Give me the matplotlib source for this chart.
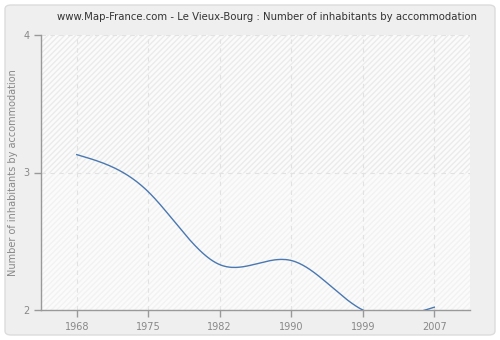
import numpy as np
import matplotlib
matplotlib.use("Agg")
import matplotlib.pyplot as plt
from matplotlib.patches import FancyBboxPatch, Rectangle

years = ["1968", "1975", "1982", "1990", "1999", "2007"]
values = [3.13, 2.86, 2.33, 2.36, 2.00, 2.02]
title = "www.Map-France.com - Le Vieux-Bourg : Number of inhabitants by accommodation"
ylabel = "Number of inhabitants by accommodation"
yticks = [2, 3, 4]


def natural_spline(x, y, n=400):
    x = np.asarray(x, float)
    y = np.asarray(y, float)
    k = len(x)
    h = np.diff(x)
    A = np.zeros((k, k))
    b = np.zeros(k)
    A[0, 0] = 1
    A[-1, -1] = 1
    for i in range(1, k - 1):
        A[i, i - 1] = h[i - 1]
        A[i, i] = 2 * (h[i - 1] + h[i])
        A[i, i + 1] = h[i]
        b[i] = 6 * ((y[i + 1] - y[i]) / h[i] - (y[i] - y[i - 1]) / h[i - 1])
    M = np.linalg.solve(A, b)
    xs = np.linspace(x[0], x[-1], n)
    idx = np.clip(np.searchsorted(x, xs) - 1, 0, k - 2)
    x0, x1 = x[idx], x[idx + 1]
    hh = x1 - x0
    t0 = x1 - xs
    t1 = xs - x0
    ys = (M[idx] * t0**3 / (6 * hh) + M[idx + 1] * t1**3 / (6 * hh)
          + (y[idx] / hh - M[idx] * hh / 6) * t0
          + (y[idx + 1] / hh - M[idx + 1] * hh / 6) * t1)
    return xs, ys


fig = plt.figure(figsize=(5, 3.4), dpi=100, facecolor="white")
fig.patches.append(FancyBboxPatch((5 / 500, 5 / 340), 490 / 500, 330 / 340,
                                  boxstyle="round,pad=0,rounding_size=0.012",
                                  transform=fig.transFigure, facecolor="#efefef",
                                  edgecolor="#dcdcdc", linewidth=1, zorder=-10))

ax = fig.add_axes([41 / 500, 30 / 340, 429 / 500, 275 / 340])
ax.set_facecolor("#fbfbfb")
ax.set_xlim(-0.5, len(years) - 0.5)
ax.set_ylim(2, 4)

# hatched background bands
ax.add_patch(Rectangle((-0.5, 3), len(years), 1, facecolor="#fbfbfb",
                       edgecolor="#ebebeb", hatch="//////", linewidth=0, zorder=0))
ax.add_patch(Rectangle((-0.5, 2), len(years), 1, facecolor="#fbfbfb",
                       edgecolor="#f2f2f2", hatch="//////", linewidth=0, zorder=0))

xpos = np.arange(len(years))
xs, ys = natural_spline(xpos, values)
ax.plot(xs, ys, color="#4a78b0", linewidth=1.0, zorder=3, clip_on=True)

ax.set_xticks(xpos)
ax.set_xticklabels(years)
ax.set_yticks(yticks)
ax.set_yticklabels([str(v) for v in yticks])
ax.grid(True, color="#e2e2e2", linestyle=(0, (4, 4)), linewidth=0.8, zorder=1)
ax.set_axisbelow(True)

for s in ["top", "right"]:
    ax.spines[s].set_visible(False)
for s in ["left", "bottom"]:
    ax.spines[s].set_color("#999999")
    ax.spines[s].set_linewidth(1)
ax.tick_params(axis="both", colors="#999999", labelcolor="#888888",
               labelsize=7, length=5, width=1)
ax.tick_params(axis="x", pad=4)
ax.tick_params(axis="y", pad=3)

ax.set_ylabel(ylabel, color="#888888", fontsize=7, labelpad=4)
fig.text(267 / 500, 1 - 17 / 340, title, ha="center", va="center",
         fontsize=7.3, color="#333333")

fig.savefig("out.png", dpi=100, facecolor=fig.get_facecolor())
